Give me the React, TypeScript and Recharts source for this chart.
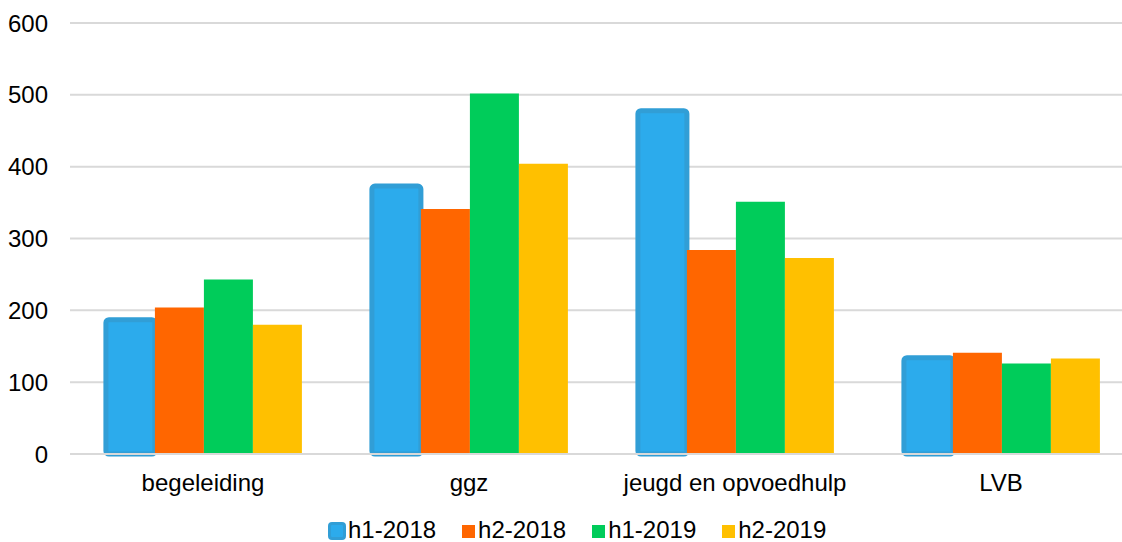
import { Bar, BarChart, CartesianGrid, Legend, XAxis, YAxis } from "recharts";

const categories = ["begeleiding", "ggz", "jeugd en opvoedhulp", "LVB"];
const h1_2018 = [187, 373, 478, 134];
const h2_2018 = [204, 341, 284, 141];
const h1_2019 = [243, 502, 351, 126];
const h2_2019 = [180, 404, 273, 133];
const yTicks = [0, 100, 200, 300, 400, 500, 600];

const seriesInfo = [
  { key: "h1-2018", color: "#2CABEC", values: h1_2018 },
  { key: "h2-2018", color: "#FF6600", values: h2_2018 },
  { key: "h1-2019", color: "#00CC5A", values: h1_2019 },
  { key: "h2-2019", color: "#FFC000", values: h2_2019 },
];

const data = categories.map((name, i) => {
  const row: Record<string, string | number> = { name };
  seriesInfo.forEach((s) => {
    row[s.key] = s.values[i];
  });
  return row;
});

const FONT = "'Liberation Sans', Arial, sans-serif";
const BLUE_EDGE = "#319ED6";

// first series has a darker rounded outline, like the source
function OutlinedBar(props: any) {
  const { x, y, width, height, fill } = props;
  if (!height || height <= 0) return null;
  return (
    <rect
      x={x}
      y={y}
      width={width}
      height={height}
      rx={3}
      ry={3}
      fill={fill}
      stroke={BLUE_EDGE}
      strokeWidth={5}
    />
  );
}

function LegendContent() {
  return (
    <div
      style={{
        height: 24,
        display: "flex",
        alignItems: "center",
        paddingLeft: 328,
        fontFamily: FONT,
        fontSize: 24,
        color: "#000",
      }}
    >
      {seriesInfo.map((s, i) => (
        <div key={s.key} style={{ display: "flex", alignItems: "center", marginRight: 26 }}>
          {i === 0 ? (
            <svg width={18} height={18} style={{ marginRight: 2, position: "relative", top: 1 }}>
              <rect x={1.5} y={1.5} width={15} height={15} rx={2.5} fill={s.color} stroke={BLUE_EDGE} strokeWidth={3} />
            </svg>
          ) : (
            <svg width={13} height={13} style={{ marginRight: 3, position: "relative", top: 1 }}>
              <rect x={0} y={0} width={13} height={13} fill={s.color} />
            </svg>
          )}
          <span style={{ lineHeight: "24px", whiteSpace: "nowrap" }}>{s.key}</span>
        </div>
      ))}
    </div>
  );
}

export default function App() {
  return (
    <div style={{ position: "absolute", left: 0, top: 0, width: 1122, height: 542, background: "#fff", overflow: "hidden" }}>
      <BarChart
        width={1122}
        height={542}
        data={data}
        margin={{ top: 23, right: -12, bottom: 0, left: 0 }}
        barCategoryGap="13.5%"
        barGap={0}
      >
        <CartesianGrid vertical={false} stroke="#D9D9D9" strokeWidth={2} />
        <XAxis
          dataKey="name"
          height={64}
          tickLine={false}
          tickSize={0}
          tickMargin={20}
          axisLine={{ stroke: "#D9D9D9", strokeWidth: 2 }}
          tick={{ fontSize: 24, fill: "#000", fontFamily: FONT }}
        />
        <YAxis
          width={70}
          domain={[0, 600]}
          ticks={yTicks}
          axisLine={false}
          tickLine={false}
          tickSize={0}
          tickMargin={22}
          tick={{ fontSize: 24, fill: "#000", fontFamily: FONT }}
        />
        <Legend verticalAlign="bottom" content={<LegendContent />} wrapperStyle={{ left: 0, width: 1122 }} />
        <Bar dataKey="h1-2018" fill={seriesInfo[0].color} shape={<OutlinedBar />} isAnimationActive={false} />
        <Bar dataKey="h2-2018" fill={seriesInfo[1].color} isAnimationActive={false} />
        <Bar dataKey="h1-2019" fill={seriesInfo[2].color} isAnimationActive={false} />
        <Bar dataKey="h2-2019" fill={seriesInfo[3].color} isAnimationActive={false} />
      </BarChart>
    </div>
  );
}
